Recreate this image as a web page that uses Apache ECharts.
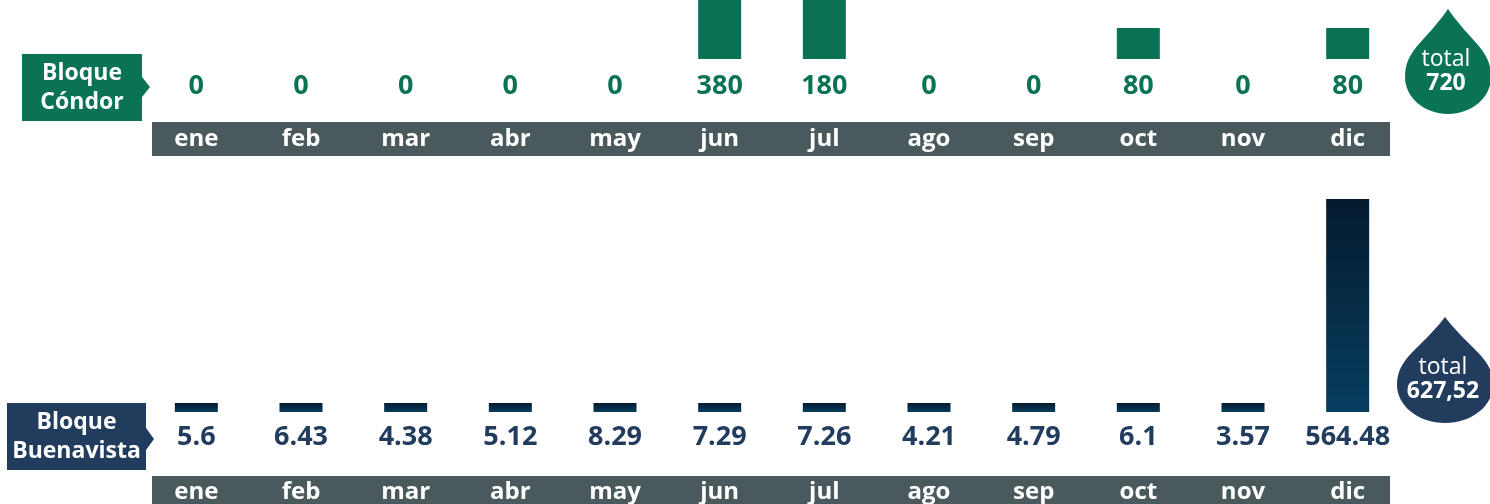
<!DOCTYPE html>
<html>
<head>
<meta charset="utf-8">
<script src="https://cdn.jsdelivr.net/npm/echarts@6/dist/echarts.min.js"></script>
<style>
  html, body { margin: 0; padding: 0; background: #fff; }
  #chart { width: 1490px; height: 504px; }
</style>
</head>
<body>
<div id="chart"></div>
<script>
const months = ["ene", "feb", "mar", "abr", "may", "jun", "jul", "ago", "sep", "oct", "nov", "dic"];
const condorValues = [0, 0, 0, 0, 0, 380, 180, 0, 0, 80, 0, 80];
const buenavistaValues = [5.6, 6.43, 4.38, 5.12, 8.29, 7.29, 7.26, 4.21, 4.79, 6.1, 3.57, 564.48];

const green = "#0a7356";
const navy = "#223c5e";
const stripGray = "#4a5a5c";
const font = "Open Sans";

function total(arr) {
  const s = arr.reduce((a, b) => a + b, 0);
  return String(Math.round(s * 100) / 100).replace(".", ",");
}

function cubic(p0, p1, p2, p3, n, out) {
  for (let i = 0; i <= n; i++) {
    const t = i / n, u = 1 - t;
    out.push([
      u * u * u * p0[0] + 3 * u * u * t * p1[0] + 3 * u * t * t * p2[0] + t * t * t * p3[0],
      u * u * u * p0[1] + 3 * u * u * t * p1[1] + 3 * u * t * t * p2[1] + t * t * t * p3[1],
    ]);
  }
}

// gota con el total: punta arriba, parte ancha en wy
function drop(cx, tipY, wy, rx, ry, color, value) {
  const h = wy - tipY;
  const k = 0.5523;
  const by = wy + ry;
  const pts = [];
  cubic([cx, tipY], [cx + 0.55 * rx, tipY + 0.5 * h], [cx + rx, tipY + 0.6 * h], [cx + rx, wy], 20, pts);
  cubic([cx + rx, wy], [cx + rx, wy + k * ry], [cx + k * rx, by], [cx, by], 16, pts);
  cubic([cx, by], [cx - k * rx, by], [cx - rx, wy + k * ry], [cx - rx, wy], 16, pts);
  cubic([cx - rx, wy], [cx - rx, tipY + 0.6 * h], [cx - 0.55 * rx, tipY + 0.5 * h], [cx, tipY], 20, pts);
  return {
    type: "group",
    children: [
      { type: "polygon", shape: { points: pts }, style: { fill: color } },
      {
        type: "text", x: cx - 2, y: wy - 18,
        style: { text: "total", fill: "#fff", font: "400 23px '" + font + "'", align: "center", verticalAlign: "middle" },
      },
      {
        type: "text", x: cx - 2, y: wy + 6,
        style: { text: value, fill: "#fff", font: "700 23px '" + font + "'", align: "center", verticalAlign: "middle" },
      },
    ],
  };
}

function tag(x, y, w, h, arrowY, arrowH, arrowW, color, lines) {
  return {
    type: "group",
    children: [
      {
        type: "polygon",
        shape: {
          points: [
            [x, y], [x + w, y], [x + w, arrowY - arrowH / 2], [x + w + arrowW, arrowY],
            [x + w, arrowY + arrowH / 2], [x + w, y + h], [x, y + h],
          ],
        },
        style: { fill: color },
      },
      {
        type: "text", x: x + w / 2, y: y + h / 2,
        style: {
          text: lines, fill: "#fff", font: "700 23px '" + font + "'",
          align: "center", verticalAlign: "middle", lineHeight: 29,
        },
      },
    ],
  };
}

const chart = echarts.init(document.getElementById("chart"));

const monthLabel = {
  color: "#fff",
  fontFamily: font,
  fontWeight: "bold",
  fontSize: 24,
  margin: 68,
};

const option = {
  animation: false,
  grid: [
    { left: 144, right: 90, top: 0, bottom: 445 },
    { left: 144, right: 90, top: 199, bottom: 92 },
  ],
  xAxis: [
    {
      type: "category", gridIndex: 0, data: months, z: 10,
      axisLine: { show: false }, axisTick: { show: false }, axisLabel: monthLabel,
    },
    {
      type: "category", gridIndex: 1, data: months, z: 10,
      axisLine: { show: false }, axisTick: { show: false }, axisLabel: monthLabel,
    },
  ],
  yAxis: [
    { type: "value", gridIndex: 0, min: 0, max: 152, show: false },
    { type: "value", gridIndex: 1, min: 0, max: 564.48, show: false },
  ],
  series: [
    {
      name: "Bloque Cóndor",
      type: "bar",
      xAxisIndex: 0,
      yAxisIndex: 0,
      barWidth: 43,
      data: condorValues,
      itemStyle: { color: green },
      label: {
        show: true, position: "bottom", distance: 14,
        color: green, fontFamily: font, fontWeight: "bold", fontSize: 27,
      },
    },
    {
      name: "Bloque Buenavista",
      type: "bar",
      xAxisIndex: 1,
      yAxisIndex: 1,
      barWidth: 43,
      barMinHeight: 9,
      data: buenavistaValues,
      itemStyle: {
        color: new echarts.graphic.LinearGradient(0, 0, 0, 1, [
          { offset: 0, color: "#041a2e" },
          { offset: 1, color: "#073e60" },
        ]),
      },
      label: {
        show: true, position: "bottom", distance: 12,
        color: navy, fontFamily: font, fontWeight: "bold", fontSize: 27,
      },
    },
  ],
  graphic: {
    elements: [
      { type: "rect", z: -1, shape: { x: 152, y: 122, width: 1238, height: 34 }, style: { fill: stripGray } },
      { type: "rect", z: -1, shape: { x: 152, y: 476, width: 1238, height: 30 }, style: { fill: stripGray } },
      tag(22, 54, 120, 67, 87, 20, 8, green, "Bloque\nCóndor"),
      tag(7, 403, 139, 67, 439, 22, 8, navy, "Bloque\nBuenavista"),
      drop(1448, 9, 77, 43, 37, green, total(condorValues)),
      drop(1445, 317, 385, 48, 38, navy, total(buenavistaValues)),
    ],
  },
};

chart.setOption(option);
window.addEventListener("resize", () => chart.resize());
</script>
</body>
</html>
